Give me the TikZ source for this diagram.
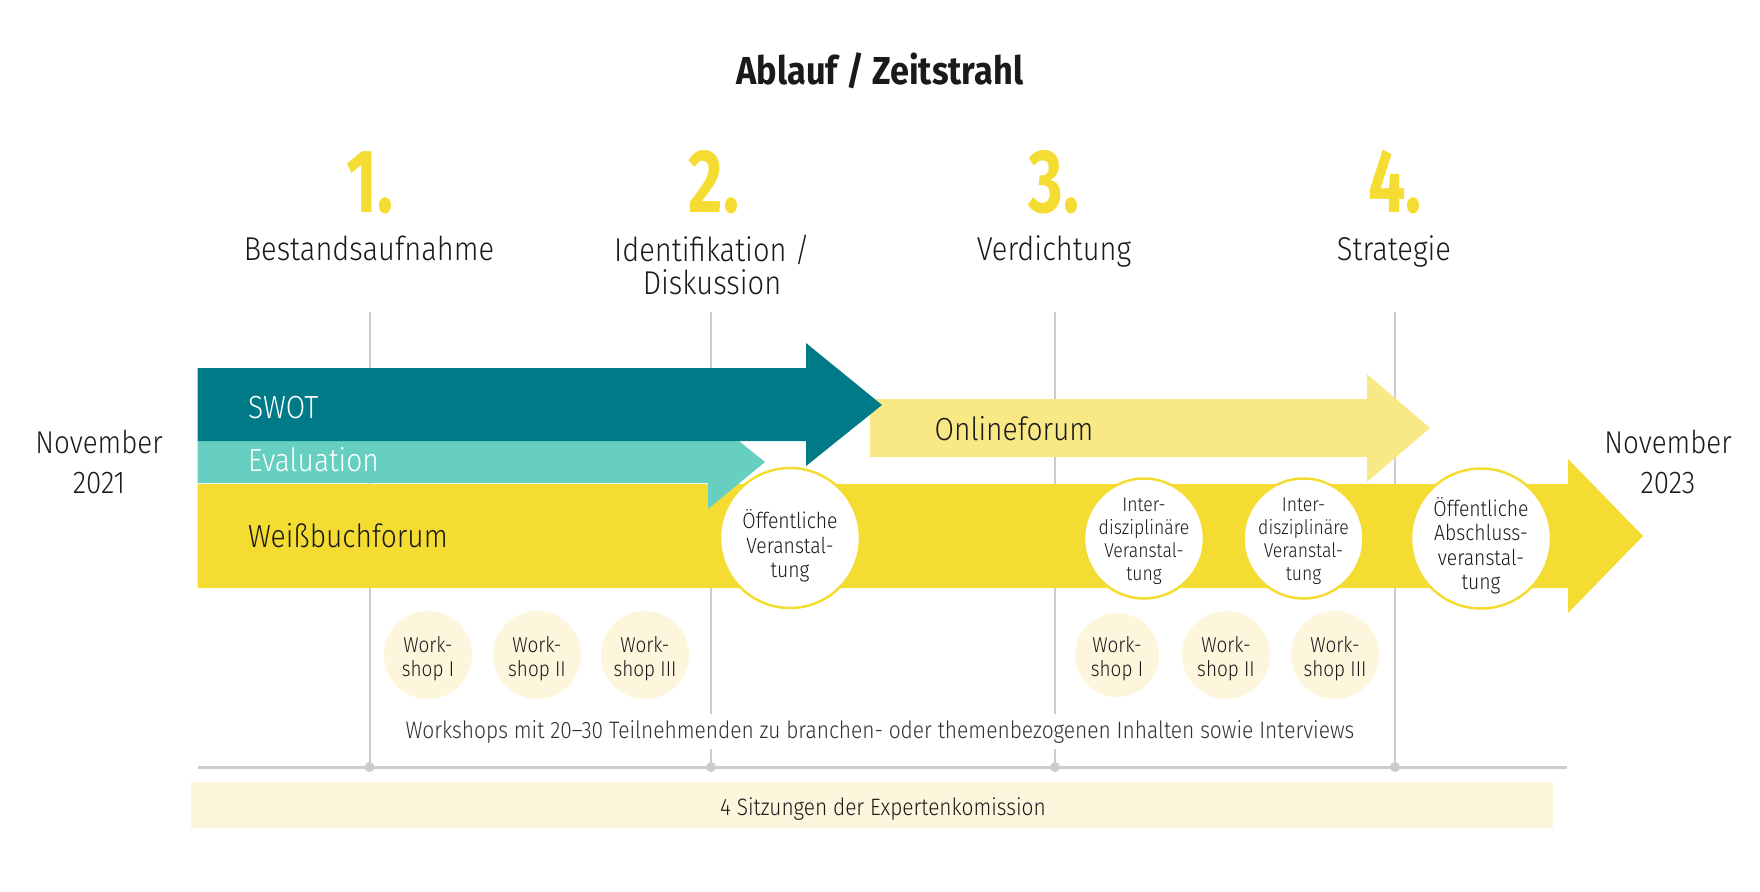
\documentclass[tikz,border=0pt]{standalone}
\usepackage{fontspec}
\setmainfont{Fira Sans}[FakeStretch=0.88, UprightFont=* Light, BoldFont=* Bold]
\newfontfamily\titlefont{Fira Sans}[FakeStretch=0.88, UprightFont=* Bold]
\newfontfamily\numfont{Fira Sans}[FakeStretch=0.74, UprightFont=* Bold]
\definecolor{ink}{HTML}{1A1A1A}
\definecolor{teal}{HTML}{007A87}
\definecolor{lteal}{HTML}{66CFC0}
\definecolor{yel}{HTML}{F5DC32}
\definecolor{lyel}{HTML}{F9E886}
\definecolor{cream}{HTML}{FDF6DC}
\definecolor{gr}{HTML}{CCCCCC}
\begin{document}
\begin{tikzpicture}[x=1pt,y=-1pt,
  txt/.style={text=ink, inner sep=0pt},
  stage/.style={txt, font=\fontsize{33}{33}\selectfont},
  bigno/.style={text=yel, inner sep=0pt, anchor=base, font=\numfont\fontsize{90}{90}\selectfont},
  event/.style={circle, draw=yel, line width=2.5pt, fill=white, inner sep=0pt, minimum size=#1},
  evtext/.style={txt, align=center, font=\fontsize{20}{23}\selectfont},
  bigevtext/.style={txt, align=center, font=\fontsize{22}{24.5}\selectfont},
  wsc/.style={circle, fill=cream, inner sep=0pt, minimum size=#1},
  wstext/.style={txt, align=center, font=\fontsize{21.5}{24}\selectfont},
  gridline/.style={draw=gr, line width=2pt},
  bandtext/.style={inner sep=0pt, anchor=base west, font=\fontsize{32}{32}\selectfont}
]
\useasboundingbox (0,0) rectangle (1760,891);

% title
\node[txt, anchor=base, font=\titlefont\fontsize{39}{39}\selectfont] (title) at (880,84) {Ablauf / Zeitstrahl};

% phase numbers
\node[bigno] (n1) at (370,212) {1.};
\node[bigno] (n2) at (714,212) {2.};
\node[bigno] (n3) at (1054,212) {3.};
\node[bigno] (n4) at (1395,212) {4.};

% phase labels
\node[stage, anchor=base] (p1) at (369,260) {Bestandsaufnahme};
\node[stage, align=center, font=\fontsize{33}{33}\selectfont] (p2) at (712,265) {Identifikation /\\Diskussion};
\node[stage, anchor=base] (p3) at (1054,260) {Verdichtung};
\node[stage, anchor=base] (p4) at (1394,260) {Strategie};

% grid lines
\foreach \i/\x in {1/369.5,2/711,3/1055,4/1395}{
  \coordinate (t\i) at (\x,312);
  \coordinate (b\i) at (\x,767);
  \draw[gridline] (t\i) -- (b\i);
}
\coordinate (hl) at (197.5,767);
\coordinate (hr) at (1567,767);
\draw[draw=gr, line width=3pt] (hl) -- (hr);
\foreach \i in {1,...,4}{ \fill[gr] (b\i) circle (5); }

% arrows
\fill[yel] (197.5,484) -- (1568,484) -- (1568,459) -- (1643,536) -- (1568,613) -- (1568,588) -- (197.5,588) -- cycle;
\fill[lteal] (197.5,441) -- (708,441) -- (708,416) -- (765,462) -- (708,509) -- (708,483) -- (197.5,483) -- cycle;
\fill[lyel] (870,399) -- (1367,399) -- (1367,374) -- (1430,428) -- (1367,482) -- (1367,457) -- (870,457) -- cycle;
\fill[teal] (197.5,368) -- (806,368) -- (806,343) -- (882,405) -- (806,466) -- (806,441) -- (197.5,441) -- cycle;

\node[bandtext, text=white] (swot) at (248,418) {SWOT};
\node[bandtext, text=white] (eval) at (248,471) {Evaluation};
\node[bandtext, text=ink] (wbf) at (248,547) {Weißbuchforum};
\node[bandtext, text=ink] (olf) at (934.5,440) {Onlineforum};

% event circles
\node[event=140] (e1) at (790,538) {};
\node[event=120] (e2) at (1144,538.5) {};
\node[event=120] (e3) at (1303.5,538.5) {};
\node[event=140] (e4) at (1481,538.5) {};
\node[bigevtext] (e1t) at ([yshift=-8pt]e1.center) {Öffentliche\\Veranstal-\\tung};
\node[evtext] (e2t) at ([yshift=-3pt]e2.center) {Inter-\\disziplinäre\\Veranstal-\\tung};
\node[evtext] (e3t) at ([yshift=-3pt]e3.center) {Inter-\\disziplinäre\\Veranstal-\\tung};
\node[bigevtext] (e4t) at ([yshift=-7pt]e4.center) {Öffentliche\\Abschluss-\\veranstal-\\tung};

% workshops
\node[wsc=88] (w1) at (428,655) {};
\node[wsc=88] (w2) at (537,655) {};
\node[wsc=88] (w3) at (645,655) {};
\node[wsc=84] (w4) at (1117,655) {};
\node[wsc=88] (w5) at (1226,655) {};
\node[wsc=88] (w6) at (1335,655) {};
\node[wstext] (w1t) at ([yshift=-4pt]w1.center) {Work-\\shop I};
\node[wstext] (w2t) at ([yshift=-4pt]w2.center) {Work-\\shop II};
\node[wstext] (w3t) at ([yshift=-4pt]w3.center) {Work-\\shop III};
\node[wstext] (w4t) at ([yshift=-4pt]w4.center) {Work-\\shop I};
\node[wstext] (w5t) at ([yshift=-4pt]w5.center) {Work-\\shop II};
\node[wstext] (w6t) at ([yshift=-4pt]w6.center) {Work-\\shop III};

\node[txt, anchor=base, fill=white, inner xsep=0pt, inner ysep=6pt, font=\fontsize{23.8}{23.8}\selectfont, text=ink!90] (wsnote) at (880,738) {Workshops mit 20–30 Teilnehmenden zu branchen- oder themenbezogenen Inhalten sowie Interviews};

% bottom bar
\node[fill=cream, inner sep=0pt, minimum width=1362, minimum height=46] (bar) at (872,805) {};
\node[txt, anchor=base, font=\fontsize{23.7}{23.7}\selectfont] (bart) at (883,815) {4 Sitzungen der Expertenkomission};

% dates
\node[txt, align=center, font=\fontsize{31.5}{40}\selectfont] (d1) at (99,462) {November\\2021};
\node[txt, align=center, font=\fontsize{31.5}{40}\selectfont] (d2) at (1668,462) {November\\2023};
\end{tikzpicture}
\end{document}
